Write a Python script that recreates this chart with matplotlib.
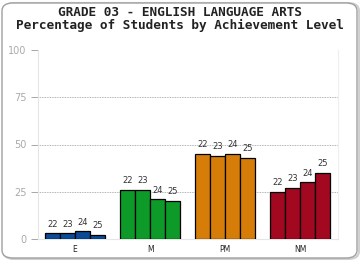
import matplotlib
matplotlib.use('Agg')
import matplotlib.pyplot as plt
from matplotlib.patches import FancyBboxPatch
import numpy as np

# Data
levels = ['E', 'M', 'PM', 'NM']
years = ['22', '23', '24', '25']
pct_E = [3, 3, 4, 2]
pct_M = [26, 26, 21, 20]
pct_PM = [45, 44, 45, 43]
pct_NM = [25, 27, 30, 35]
colors = ['#0b4a94', '#0e9a28', '#d57d08', '#a20820']

values = [pct_E, pct_M, pct_PM, pct_NM]

fig = plt.figure(figsize=(3.6, 2.6), dpi=100)
ax = fig.add_axes([37.5 / 360, 21 / 260, 300.5 / 360, 189 / 260])

# Rounded frame (with a faint shadow) around the whole picture
shadow = FancyBboxPatch((3.5 / 360, 1 / 260), 355.5 / 360, 256 / 260,
                        boxstyle='round,pad=0,rounding_size=0.03',
                        transform=fig.transFigure, facecolor='none',
                        edgecolor='#d0d0d0', linewidth=1.5, zorder=-11)
frame = FancyBboxPatch((2 / 360, 2 / 260), 355 / 360, 255 / 260,
                       boxstyle='round,pad=0,rounding_size=0.03',
                       transform=fig.transFigure, facecolor='white',
                       edgecolor='#a0a0a0', linewidth=1.0, zorder=-10)
fig.patches.append(shadow)
fig.patches.append(frame)

bar_w = 0.2
x = np.arange(len(levels))
for i, vals in enumerate(values):
    for j, v in enumerate(vals):
        xpos = x[i] - 0.3 + j * bar_w
        ax.bar(xpos, v, width=bar_w, color=colors[i], edgecolor='black',
               linewidth=0.9, zorder=3)
        ax.text(xpos, v + 2.5, years[j], ha='center', va='bottom',
                fontsize=6, color='#333333', zorder=4)

ax.set_xlim(-0.5, 3.5)
ax.set_ylim(0, 100)
ax.set_yticks([0, 25, 50, 75, 100])
ax.set_xticks(x)
ax.set_xticklabels(levels)
ax.tick_params(axis='x', length=0, labelsize=5.5, pad=4, labelcolor='#222222')
ax.tick_params(axis='y', length=5, width=0.6, color='#999999',
               labelsize=7, labelcolor='#aaaaaa', pad=3)

for y in [25, 50, 75]:
    ax.axhline(y, color='#999999', linestyle=(0, (1, 1)), linewidth=0.6, zorder=1)

for side in ['top', 'right']:
    ax.spines[side].set_visible(False)
ax.spines['left'].set_color('#e6e6e6')
ax.spines['bottom'].set_color('#e6e6e6')
ax.plot([1, 1], [0, 1], transform=ax.transAxes, color='#eeeeee', linewidth=0.8,
        clip_on=False)
ax.set_facecolor('none')

fig.text(0.5, 1 - 13 / 260, 'GRADE 03 - ENGLISH LANGUAGE ARTS', ha='center',
         va='center', fontsize=9.2, fontweight='bold', family='DejaVu Sans Mono',
         color='#222222')
fig.text(0.5, 1 - 25 / 260, 'Percentage of Students by Achievement Level',
         ha='center', va='center', fontsize=9.2, fontweight='bold',
         family='DejaVu Sans Mono', color='#222222')

fig.savefig('out.png', dpi=100)
